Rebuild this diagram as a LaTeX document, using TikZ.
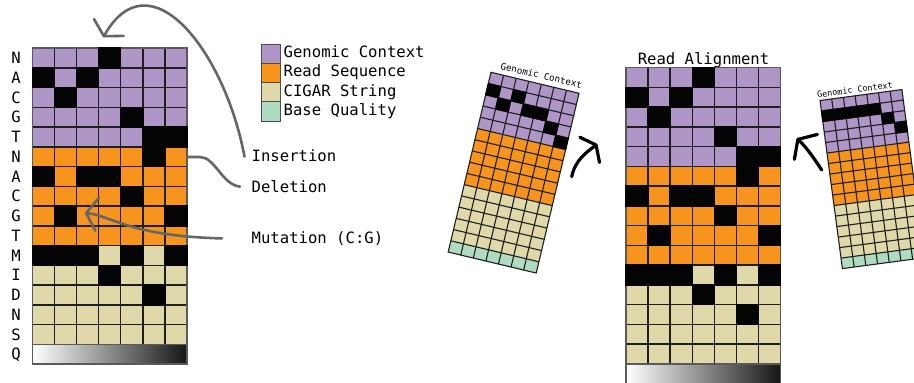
\documentclass[tikz,border=0pt]{standalone}
\usepackage{fontspec}
\setmonofont{DejaVu Sans Mono}
\usetikzlibrary{arrows.meta}

\definecolor{gcPurple}{HTML}{AE97C7}
\definecolor{rsOrange}{HTML}{F7941E}
\definecolor{cgBeige}{HTML}{DFD9A9}
\definecolor{bqGreen}{HTML}{AFDCC1}
\definecolor{cellBlack}{HTML}{040404}
\definecolor{ruleDark}{HTML}{1E1E1E}
\definecolor{frameGray}{HTML}{5A5A5A}
\definecolor{qDark}{HTML}{161616}
\definecolor{calloutGray}{HTML}{666666}
\definecolor{keyEdge}{HTML}{4D4D4D}

% a band of rows #1..#2 filled with colour #3 (seven columns wide)
\newcommand\bandrows[3]{\fill[#3] (0,#1) rectangle (7,#2+1);}
% black cells of row #1 at the columns listed in #2
\newcommand\darkcells[2]{\foreach \cc in {#2}{\filldraw[blackcell] (\cc,#1) rectangle ++(1,1);}}
% inner cell rules: verticals down to row #1, horizontals at rows 1..#2
\newcommand\cellrules[2]{%
  \foreach \cc in {1,...,6}{\draw[cellrule] (\cc,0) -- (\cc,#1);}
  \foreach \rr in {1,...,#2}{\draw[cellrule] (0,\rr) -- (7,\rr);}}

% full alignment tensor: context, read, CIGAR and a quality gradient
\newcommand\alignmatrix{%
  \bandrows{0}{4}{gcPurple}
  \bandrows{5}{9}{rsOrange}
  \bandrows{10}{14}{cgBeige}
  \shade[left color=white,right color=qDark] (0,15) rectangle (7,16);
  \cellrules{15}{14}
  \draw[cellframe] (0,0) rectangle (7,16) (0,15) -- (7,15);
  \darkcells{0}{3}\darkcells{1}{0,2}\darkcells{2}{1}\darkcells{3}{4}\darkcells{4}{5,6}
  \darkcells{5}{5}\darkcells{6}{0,2,3}\darkcells{7}{4}\darkcells{8}{1,6}
  \darkcells{10}{0,1,2,4,6}\darkcells{11}{3}\darkcells{12}{5}}

% small tilted tensor; #1 holds its black cells
\newcommand\tiltmatrix[1]{%
  \bandrows{0}{4}{gcPurple}
  \bandrows{5}{9}{rsOrange}
  \bandrows{10}{14}{cgBeige}
  \bandrows{15}{15}{bqGreen}
  \cellrules{16}{15}
  \draw[cellrule] (0,0) rectangle (7,16);
  #1}

\begin{document}
\begin{tikzpicture}[x=1pt,y=-1pt,
  mono/.style={font=\ttfamily\fontsize{15.6}{18}\selectfont,inner sep=0pt,text=black},
  tiny/.style={font=\ttfamily\fontsize{#1}{10}\selectfont,inner sep=0pt,text=black},
  cellrule/.style={draw=ruleDark},
  cellframe/.style={draw=frameGray},
  blackcell/.style={fill=cellBlack,draw=cellBlack},
  keybox/.style={draw=keyEdge,line width=1pt,minimum width=18.6pt,minimum height=19.2pt,inner sep=0pt},
  callout/.style={draw=calloutGray,line width=2.6pt,line cap=round},
  swing/.style={draw=black,line width=3.2pt,line cap=round}]

\path[use as bounding box] (0,0) rectangle (914,383);
\clip (0,0) rectangle (914,383);

% ---- annotated tensor on the left
\begin{scope}[shift={(32.3,48)},x=22.1pt,y=-19.75pt,line width=1.5pt]
  \alignmatrix
  \coordinate (ins-target) at (3.21,-0.54);
  \coordinate (del-source) at (7,5.52);
  \coordinate (mut-target) at (2.38,8.35);
\end{scope}

\foreach \t [count=\i from 0] in {N,A,C,G,T,N,A,C,G,T,M,I,D,N,S,Q}
  \node[mono,anchor=base] (row\i) at (16,{48+19.75*(\i+0.5)+5.7}) {\t};

% ---- legend
\foreach \col/\txt [count=\k from 0] in
  {gcPurple/Genomic Context,rsOrange/Read Sequence,cgBeige/CIGAR String,bqGreen/Base Quality}{
  \node[keybox,fill=\col] (key\k) at (271,{53.9+19.2*\k}) {};
  \node[mono,anchor=base west] (keytext\k) at (283.5,{57.4+19.45*\k}) {\txt};
}

% ---- annotation labels and their callouts
\node[mono,anchor=base west] (ins) at (251.5,161) {Insertion};
\node[mono,anchor=base west] (del) at (251.5,192.5) {Deletion};
\node[mono,anchor=base west] (mut) at (251.5,243.3) {Mutation (C:G)};

\draw[callout,-{Straight Barb[length=10pt,width=34pt,round]}]
  ([xshift=-7pt,yshift=-1.5pt]ins.west) .. controls +(-19.5,-105) and +(46.7,-82.3) .. (ins-target);
\draw[callout] (del-source) -- +(13,0) .. controls +(15,0) and +(-18,-2) .. ([xshift=-11.5pt]del.west);
\draw[callout,-{Straight Barb[length=11pt,width=33pt,round]}]
  ([xshift=-29.5pt]mut.west) .. controls +(-92,-2.3) and +(27,3) .. (mut-target);

% ---- tilted tensor, left of the alignment
\begin{scope}[shift={(491,72.3)},rotate=-13.4,x=12.93pt,y=-11.55pt,line width=1.1pt]
  \tiltmatrix{\darkcells{1}{0,2}\darkcells{2}{1,3,4}\darkcells{3}{5}\darkcells{4}{6}}
  \node[tiny=9.2,anchor=base,rotate=-13.4] (ctx-left) at (3.85,-0.45) {Genomic Context};
\end{scope}

% ---- central read alignment
\node[mono,anchor=base] (title) at (703.5,64) {Read Alignment};
\begin{scope}[shift={(626,67.7)},x=22.1pt,y=-19.75pt,line width=1.5pt]
  \alignmatrix
\end{scope}

% ---- tilted tensor, right of the alignment
\begin{scope}[shift={(820,100.5)},rotate=7.6,x=11.8pt,y=-10.6pt,line width=1.1pt]
  \tiltmatrix{\darkcells{1}{0,1,2,3,4}\darkcells{2}{5}\darkcells{3}{6}}
  \node[tiny=8.4,anchor=base,rotate=7.6] (ctx-right) at (3.05,-0.28) {Genomic Context};
\end{scope}

% ---- swing arrows turning the tilted tensors upright
\coordinate (swing-l-tail) at (571.7,176.7);
\coordinate (swing-l-tip) at (597.3,144);
\draw[swing,-{Straight Barb[length=8pt,width=32pt,round]}]
  (swing-l-tail) .. controls +(3.3,-16.7) and +(-10.3,8) .. (swing-l-tip);
\coordinate (swing-r-tail) at (821.7,170);
\coordinate (swing-r-tip) at (796.7,138.3);
\draw[swing,-{Straight Barb[length=11pt,width=34pt,round]}]
  (swing-r-tail) .. controls +(-9.7,-15) and +(8.3,7.7) .. (swing-r-tip);
\end{tikzpicture}
\end{document}
